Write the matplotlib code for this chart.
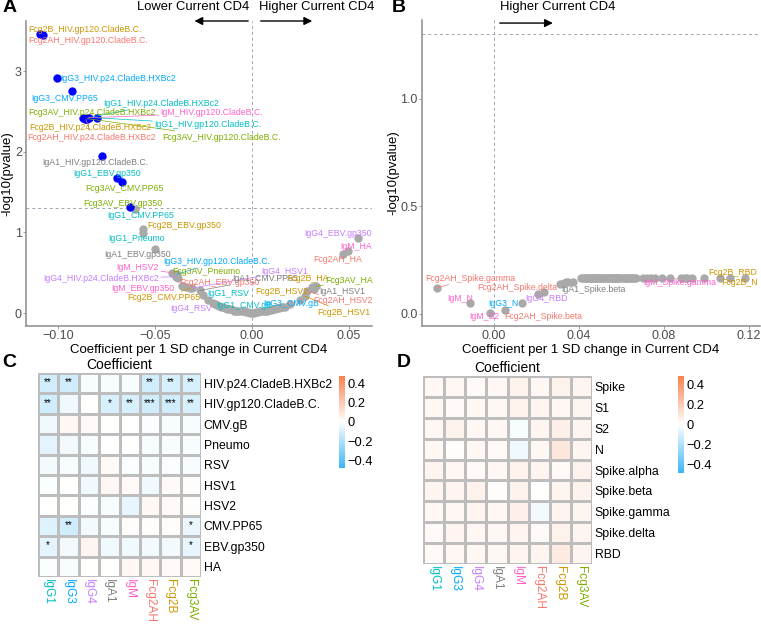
# -*- coding: utf-8 -*-
# Volcano plots (A, B) and coefficient heatmaps (C, D) for Current CD4

import numpy as np
import matplotlib
matplotlib.use("Agg")
import matplotlib.pyplot as plt
from matplotlib.colors import LinearSegmentedColormap

plt.rcParams['font.family'] = ['Liberation Sans', 'DejaVu Sans']


# %% Data

isotypes = ["IgG1", "IgG3", "IgG4", "IgA1", "IgM", "Fcg2AH", "Fcg2B", "Fcg3AV"]
iso_colors = {"IgG1": "#00BFC4", "IgG3": "#00A9FF", "IgG4": "#C77CFF",
              "IgA1": "#7F7F7F", "IgM": "#FF61CC", "Fcg2AH": "#F8766D",
              "Fcg2B": "#CD9600", "Fcg3AV": "#7CAE00"}

antigens_a = ["HIV.p24.CladeB.HXBc2", "HIV.gp120.CladeB.C.", "CMV.gB", "Pneumo",
              "RSV", "HSV1", "HSV2", "CMV.PP65", "EBV.gp350", "HA"]

# rows = isotypes, cols = antigens_a
coef_a = [
    [-0.0845, -0.0799, -0.0201, -0.0562, -0.0253, -0.008, 0.002, -0.0603, -0.0696, -0.012],
    [-0.1005, -0.0387, 0.0196, -0.016, -0.010, 0.004, 0.006, -0.0928, -0.017, -0.014],
    [-0.0392, -0.001, 0.010, -0.006, -0.0227, -0.0309, -0.004, -0.018, 0.0546, 0.008],
    [-0.015, -0.0773, 0.003, 0.001, 0.012, 0.032, -0.007, -0.0268, -0.050, 0.014],
    [-0.011, -0.084, 0.005, 0.000, -0.003, 0.016, -0.0412, 0.009, -0.0361, 0.0495],
    [-0.0856, -0.1077, -0.005, -0.009, -0.002, -0.019, 0.0284, 0.011, -0.034, 0.0469],
    [-0.0861, -0.1093, -0.008, -0.013, 0.007, 0.0273, 0.0247, -0.032, -0.0562, 0.0309],
    [-0.0871, -0.085, 0.013, -0.0381, -0.004, 0.017, 0.015, -0.067, -0.0629, 0.033],
]
logp_a = [
    [2.42, 2.42, 0.12, 0.99, 0.22, 0.03, 0.01, 1.29, 1.67, 0.05],
    [2.91, 0.48, 0.11, 0.08, 0.04, 0.02, 0.02, 2.75, 0.09, 0.06],
    [0.45, 0.00, 0.04, 0.02, 0.16, 0.31, 0.02, 0.10, 0.93, 0.03],
    [0.07, 1.95, 0.01, 0.00, 0.05, 0.30, 0.03, 0.28, 0.80, 0.06],
    [0.05, 2.42, 0.02, 0.00, 0.01, 0.07, 0.50, 0.04, 0.33, 0.77],
    [2.40, 3.45, 0.02, 0.03, 0.01, 0.11, 0.27, 0.05, 0.32, 0.73],
    [2.41, 3.46, 0.03, 0.05, 0.03, 0.21, 0.16, 0.31, 1.04, 0.32],
    [2.42, 2.41, 0.06, 0.43, 0.02, 0.08, 0.07, 1.62, 1.31, 0.33],
]

antigens_b = ["Spike", "S1", "S2", "N", "Spike.alpha", "Spike.beta",
              "Spike.gamma", "Spike.delta", "RBD"]

coef_b = [
    [0.045, 0.052, 0.061, 0.043, 0.058, 0.066, 0.049, 0.055, 0.047],
    [0.057, 0.044, 0.072, 0.0132, 0.051, 0.063, 0.048, 0.076, 0.054],
    [0.042, 0.050, 0.046, 0.059, 0.044, 0.083, 0.065, 0.053, 0.0207],
    [0.064, 0.056, 0.048, 0.041, 0.062, 0.031, 0.053, 0.060, 0.045],
    [0.088, 0.079, -0.0019, -0.0113, 0.091, 0.074, 0.0988, 0.070, 0.067],
    [0.056, 0.062, 0.059, 0.050, 0.065, 0.0052, -0.0268, 0.0235, 0.033],
    [0.093, 0.058, 0.090, 0.111, 0.043, 0.061, 0.047, 0.1064, 0.118],
    [0.052, 0.049, 0.057, 0.046, 0.063, 0.035, 0.037, 0.034, 0.055],
]
logp_b = [
    [0.1675, 0.1675, 0.1675, 0.1675, 0.1675, 0.1675, 0.1675, 0.1675, 0.1675],
    [0.1675, 0.1675, 0.1675, 0.051, 0.1675, 0.1675, 0.1675, 0.1675, 0.1675],
    [0.1675, 0.1675, 0.1675, 0.1675, 0.1675, 0.1675, 0.1675, 0.1675, 0.093],
    [0.1675, 0.1675, 0.1675, 0.1675, 0.1675, 0.137, 0.1675, 0.1675, 0.1675],
    [0.1675, 0.1675, 0.005, 0.051, 0.1675, 0.1675, 0.1675, 0.1675, 0.1675],
    [0.1675, 0.1675, 0.1675, 0.1675, 0.1675, 0.019, 0.121, 0.102, 0.143],
    [0.1675, 0.1675, 0.1675, 0.1675, 0.1675, 0.1675, 0.1675, 0.1675, 0.1675],
    [0.1675, 0.1675, 0.1675, 0.1675, 0.1675, 0.149, 0.150, 0.148, 0.1675],
]

# heatmap C: rows = antigens_a, cols = isotypes
heat_c = [
    [-0.12, -0.12, -0.02, -0.02, -0.02, -0.12, -0.10, -0.10],
    [-0.12, -0.04, 0.00, -0.10, -0.10, -0.12, -0.12, -0.10],
    [-0.04, 0.03, 0.02, 0.00, 0.00, -0.01, -0.02, -0.02],
    [-0.07, -0.03, -0.02, 0.00, 0.00, -0.02, -0.02, -0.02],
    [-0.03, -0.02, -0.04, 0.02, -0.01, -0.02, -0.01, -0.02],
    [-0.01, 0.00, -0.04, 0.03, 0.02, -0.04, 0.02, 0.01],
    [0.00, 0.00, -0.01, -0.02, -0.06, 0.03, 0.02, 0.01],
    [-0.08, -0.12, -0.03, -0.02, 0.01, 0.01, 0.01, -0.05],
    [-0.07, -0.03, 0.04, -0.04, -0.04, -0.03, -0.03, -0.06],
    [-0.01, -0.02, 0.00, 0.00, 0.03, 0.03, 0.02, 0.02],
]
stars_c = [
    ["**", "**", "", "", "", "**", "**", "**"],
    ["**", "", "", "*", "**", "***", "***", "**"],
    ["", "", "", "", "", "", "", ""],
    ["", "", "", "", "", "", "", ""],
    ["", "", "", "", "", "", "", ""],
    ["", "", "", "", "", "", "", ""],
    ["", "", "", "", "", "", "", ""],
    ["", "**", "", "", "", "", "", "*"],
    ["*", "", "", "", "", "", "", "*"],
    ["", "", "", "", "", "", "", ""],
]

# heatmap D: rows = antigens_b, cols = isotypes
heat_d = [
    [0.03, 0.03, 0.02, 0.03, 0.05, 0.03, 0.05, 0.04],
    [0.03, 0.02, 0.03, 0.03, 0.05, 0.04, 0.03, 0.04],
    [0.03, 0.05, 0.03, 0.03, -0.02, 0.04, 0.06, 0.04],
    [0.03, 0.01, 0.03, 0.02, -0.04, 0.03, 0.09, 0.04],
    [0.04, 0.03, 0.02, 0.03, 0.05, 0.04, 0.02, 0.05],
    [0.04, 0.04, 0.05, 0.01, 0.05, 0.00, 0.04, 0.05],
    [0.03, 0.03, 0.04, 0.03, 0.06, -0.03, 0.04, 0.04],
    [0.02, 0.04, 0.03, 0.03, 0.04, 0.02, 0.05, 0.04],
    [0.02, 0.03, 0.03, 0.03, 0.04, 0.04, 0.08, 0.04],
]

# label text positions (ggrepel result, data coords)
label_pos_a = {
    "Fcg2B_HIV.gp120.CladeB.C.": (-0.0861, 3.52),
    "Fcg2AH_HIV.gp120.CladeB.C.": (-0.0845, 3.38),
    "IgG3_HIV.p24.CladeB.HXBc2": (-0.0691, 2.91),
    "IgG3_CMV.PP65": (-0.0964, 2.66),
    "IgG1_HIV.p24.CladeB.HXBc2": (-0.0469, 2.60),
    "Fcg3AV_HIV.p24.CladeB.HXBc2": (-0.0825, 2.48),
    "IgM_HIV.gp120.CladeB.C.": (-0.0206, 2.48),
    "IgG1_HIV.gp120.CladeB.C.": (-0.0227, 2.34),
    "Fcg2B_HIV.p24.CladeB.HXBc2": (-0.0835, 2.30),
    "Fcg2AH_HIV.p24.CladeB.HXBc2": (-0.0825, 2.18),
    "Fcg3AV_HIV.gp120.CladeB.C.": (-0.0155, 2.18),
    "IgA1_HIV.gp120.CladeB.C.": (-0.0809, 1.87),
    "IgG1_EBV.gp350": (-0.0747, 1.73),
    "Fcg3AV_CMV.PP65": (-0.066, 1.55),
    "Fcg3AV_EBV.gp350": (-0.0665, 1.36),
    "IgG1_CMV.PP65": (-0.0572, 1.21),
    "Fcg2B_EBV.gp350": (-0.0351, 1.09),
    "IgG1_Pneumo": (-0.0593, 0.92),
    "IgA1_EBV.gp350": (-0.0588, 0.73),
    "IgG3_HIV.gp120.CladeB.C.": (-0.018, 0.64),
    "IgG4_EBV.gp350": (0.0443, 0.99),
    "IgM_HA": (0.0536, 0.82),
    "Fcg2AH_HA": (0.0443, 0.66),
    "IgM_HSV2": (-0.0588, 0.56),
    "Fcg3AV_Pneumo": (-0.0237, 0.51),
    "IgG4_HSV1": (0.017, 0.51),
    "IgG4_HIV.p24.CladeB.HXBc2": (-0.0778, 0.43),
    "Fcg2AH_EBV.gp350": (-0.017, 0.38),
    "IgA1_CMV.PP65": (0.0067, 0.43),
    "Fcg2B_HA": (0.0289, 0.43),
    "Fcg3AV_HA": (0.050, 0.41),
    "IgM_EBV.gp350": (-0.0562, 0.31),
    "Fcg2B_HSV2": (0.0155, 0.27),
    "IgA1_HSV1": (0.0464, 0.27),
    "Fcg2B_CMV.PP65": (-0.0454, 0.19),
    "IgG1_RSV": (-0.0124, 0.24),
    "IgG3_CMV.gB": (0.0201, 0.12),
    "Fcg2AH_HSV2": (0.0469, 0.15),
    "IgG1_CMV.gB": (-0.0041, 0.10),
    "IgG4_RSV": (-0.0314, 0.06),
    "Fcg2B_HSV1": (0.0474, 0.01),
}
label_pos_b = {
    "Fcg2AH_Spike.gamma": (-0.0113, 0.167),
    "IgM_N": (-0.016, 0.070),
    "IgM_S2": (-0.0047, -0.014),
    "Fcg2AH_Spike.beta": (0.0231, -0.014),
    "IgG3_N": (0.0042, 0.047),
    "IgG4_RBD": (0.0245, 0.070),
    "Fcg2AH_Spike.delta": (0.0108, 0.121),
    "IgA1_Spike.beta": (0.0466, 0.112),
    "IgM_Spike.gamma": (0.0875, 0.144),
    "Fcg2B_RBD": (0.1125, 0.195),
    "Fcg2B_N": (0.1158, 0.144),
}


# %% Plotting

fig = plt.figure(figsize=(7.61, 6.24), dpi=100)
W, H = 761.0, 624.0


def px_axes(l, t, r, b):
    return fig.add_axes([l / W, 1 - b / H, (r - l) / W, (b - t) / H])


grey_txt = "#4D4D4D"
line_col = "#8C8C8C"
dash_col = "#9AA6B2"
cut = -np.log10(0.05)


def volcano(ax, coef, logp, antigens, label_pos, xlim, ylim):
    coef = np.array(coef)
    logp = np.array(logp)
    sig = logp > cut
    ax.scatter(coef[~sig], logp[~sig], s=36, color="#A9A9A9", lw=0, zorder=2)
    ax.scatter(coef[sig], logp[sig], s=36, color="#0000FF", lw=0, zorder=3)
    ax.axhline(cut, color=dash_col, lw=0.7, ls=(0, (3, 3)), zorder=1)
    ax.axvline(0, color=dash_col, lw=0.7, ls=(0, (3, 3)), zorder=1)
    ax.set_xlim(xlim)
    ax.set_ylim(ylim)
    for s in ["top", "right"]:
        ax.spines[s].set_visible(False)
    for s in ["left", "bottom"]:
        ax.spines[s].set_color(line_col)
        ax.spines[s].set_linewidth(1.1)
    ax.tick_params(colors=line_col, labelcolor=grey_txt, labelsize=9, length=2, width=0.6, pad=1)
    ax.set_xlabel("Coefficient per 1 SD change in Current CD4", fontsize=9.5, labelpad=1)
    ax.set_ylabel("-log10(pvalue)", fontsize=9.5, labelpad=1)
    texts = []
    for name, (tx, ty) in label_pos.items():
        iso, ag = name.split("_", 1)
        i = isotypes.index(iso)
        j = antigens.index(ag)
        t = ax.text(tx, ty, name, color=iso_colors[iso], fontsize=6.3,
                    ha="center", va="center", zorder=5, clip_on=False)
        texts.append((t, coef[i, j], logp[i, j], iso_colors[iso]))
    return texts


def add_segments(ax, texts):
    r = fig.canvas.get_renderer()
    inv = ax.transData.inverted()
    for t, x, y, col in texts:
        bb = t.get_window_extent(r)
        x0, x1, y0, y1 = bb.x0 - 2, bb.x1 + 2, bb.y0 - 2, bb.y1 + 2
        p = ax.transData.transform((x, y))
        c = np.array([(x0 + x1) / 2, (y0 + y1) / 2])
        d = c - p
        if x0 <= p[0] <= x1 and y0 <= p[1] <= y1:
            continue
        sx = ((x0 if d[0] > 0 else x1) - p[0]) / d[0] if d[0] != 0 else -np.inf
        sy = ((y0 if d[1] > 0 else y1) - p[1]) / d[1] if d[1] != 0 else -np.inf
        s = max(sx, sy, 0)
        q = p + s * d
        if np.hypot(*(q - p)) < 7:
            continue
        a = inv.transform(p)
        b = inv.transform(q)
        ax.plot([a[0], b[0]], [a[1], b[1]], color=col, lw=0.5, zorder=4, clip_on=False)


cmap = LinearSegmentedColormap.from_list("cd4", ["#3DB5F6", "#FFFFFF", "#F7814D"])


def heatmap(ax, cax, values, rows, stars=None):
    vals = np.array(values)
    m = ax.pcolormesh(vals, cmap=cmap, vmin=-0.48, vmax=0.48,
                      edgecolors="#BDBDBD", linewidth=0.8)
    ax.set_xlim(0, len(isotypes))
    ax.set_ylim(len(rows), 0)
    ax.yaxis.tick_right()
    ax.set_yticks(np.arange(len(rows)) + 0.5, rows, fontsize=8.8)
    ax.set_xticks(np.arange(len(isotypes)) + 0.5, isotypes, rotation=-90, fontsize=8.6)
    for lbl, iso in zip(ax.get_xticklabels(), isotypes):
        lbl.set_color(iso_colors[iso])
    ax.tick_params(length=0, pad=2)
    ax.tick_params(axis="x", pad=1.5)
    for s in ax.spines.values():
        s.set_visible(False)
    ax.set_title("Coefficient", fontsize=10, pad=3)
    if stars is not None:
        for i, row in enumerate(stars):
            for j, st in enumerate(row):
                if st:
                    ax.text(j + 0.5, i + 0.45, st, ha="center", va="center", fontsize=7)
    cb = fig.colorbar(m, cax=cax, ticks=[-0.4, -0.2, 0, 0.2, 0.4])
    cb.ax.set_yticklabels(["\u22120.4", "\u22120.2", "0", "0.2", "0.4"])
    cb.outline.set_visible(False)
    cb.ax.tick_params(length=0, labelsize=9.3, pad=2)


# A
ax_a = px_axes(26, 21, 372, 326)
texts_a = volcano(ax_a, coef_a, logp_a, antigens_a, label_pos_a,
                  (-0.1165, 0.0619), (-0.16, 3.62))
ax_a.set_xticks([-0.10, -0.05, 0.00, 0.05])
ax_a.set_yticks([0, 1, 2, 3])
tr = ax_a.get_xaxis_transform()
ax_a.annotate("", xy=(-0.0311, 1.0), xytext=(-0.0005, 1.0), xycoords=tr, textcoords=tr,
              arrowprops=dict(arrowstyle="-|>", color="black", lw=1, mutation_scale=12))
ax_a.annotate("", xy=(0.0325, 1.0), xytext=(0.0031, 1.0), xycoords=tr, textcoords=tr,
              arrowprops=dict(arrowstyle="-|>", color="black", lw=1, mutation_scale=12))
ax_a.text(-0.0015, 1.046, "Lower Current CD4", transform=tr, ha="right", va="center", fontsize=9.4)
ax_a.text(0.0035, 1.046, "Higher Current CD4", transform=tr, ha="left", va="center", fontsize=9.4)

# B
ax_b = px_axes(422, 20, 760, 326)
texts_b = volcano(ax_b, coef_b, logp_b, antigens_b, label_pos_b,
                  (-0.0339, 0.1252), (-0.056, 1.367))
ax_b.set_xticks([0.00, 0.04, 0.08, 0.12])
ax_b.set_yticks([0.0, 0.5, 1.0])
tr = ax_b.get_xaxis_transform()
ax_b.annotate("", xy=(0.0290, 0.99), xytext=(0.0014, 0.99), xycoords=tr, textcoords=tr,
              arrowprops=dict(arrowstyle="-|>", color="black", lw=1, mutation_scale=12))
ax_b.text(0.0028, 1.043, "Higher Current CD4", transform=tr, ha="left", va="center", fontsize=9.4)

fig.canvas.draw()
add_segments(ax_a, texts_a)
add_segments(ax_b, texts_b)

# C
ax_c = px_axes(38, 373, 201, 577)
cax_c = px_axes(339, 376, 345, 468)
heatmap(ax_c, cax_c, heat_c, antigens_a, stars_c)

# D
ax_d = px_axes(423, 376, 592, 564)
cax_d = px_axes(678, 376, 684, 473)
heatmap(ax_d, cax_d, heat_d, antigens_b)

for letter, x, y in [("A", 3, 8), ("B", 392, 8), ("C", 2, 362), ("D", 397, 362)]:
    fig.text(x / W, 1 - y / H, letter, fontsize=14, fontweight="bold", va="center", ha="left")

fig.savefig("out.png", dpi=100)
